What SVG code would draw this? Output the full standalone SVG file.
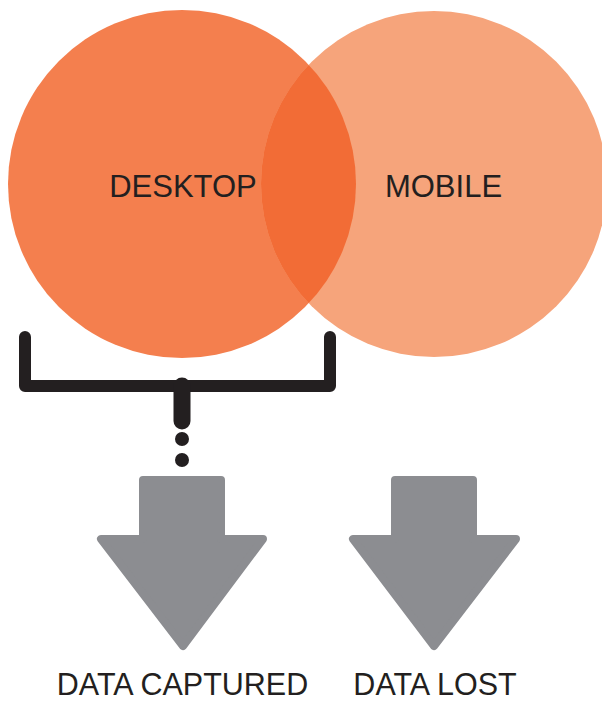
<svg xmlns="http://www.w3.org/2000/svg" width="602" height="702" viewBox="0 0 602 702">
<style>
.lbl{font-family:"Liberation Sans",Arial,sans-serif;font-size:31px;fill:#231F20;text-anchor:middle}
.bot{font-size:30.5px}
.arrow{fill:#8C8D91;stroke:#8C8D91;stroke-width:8;stroke-linejoin:round}
.br{fill:none;stroke:#231F20;stroke-width:12;stroke-linecap:round;stroke-linejoin:round}
</style>
<defs>
<clipPath id="cl"><circle cx="182" cy="184" r="174"/></clipPath>
</defs>
<g id="desktop">
<circle cx="182" cy="184" r="174" fill="#F47F4E"/>
</g>
<g id="mobile">
<circle cx="434" cy="184" r="173" fill="#F6A47B"/>
</g>
<g id="overlap">
<circle cx="434" cy="184" r="173" fill="#F26C36" clip-path="url(#cl)"/>
</g>
<text class="lbl" x="183" y="197">DESKTOP</text>
<text class="lbl" x="443.5" y="197">MOBILE</text>
<g id="connectors">
<path class="br" d="M25,337 V386 H330 V337"/>
<path d="M182,386 V421" stroke="#231F20" stroke-width="17" stroke-linecap="round" fill="none"/>
<circle cx="182" cy="439" r="7" fill="#231F20"/>
<circle cx="182" cy="460" r="7" fill="#231F20"/>
</g>
<g id="captured">
<path class="arrow" d="M143,480 H221 V539 H263 L183,646 L101,539 H143 Z"/>
<text class="lbl bot" x="182.5" y="695">DATA CAPTURED</text>
</g>
<g id="lost">
<path class="arrow" d="M395,480 H473 V539 H516 L434,646 L353,539 H395 Z"/>
<text class="lbl bot" x="435" y="695">DATA LOST</text>
</g>
</svg>
